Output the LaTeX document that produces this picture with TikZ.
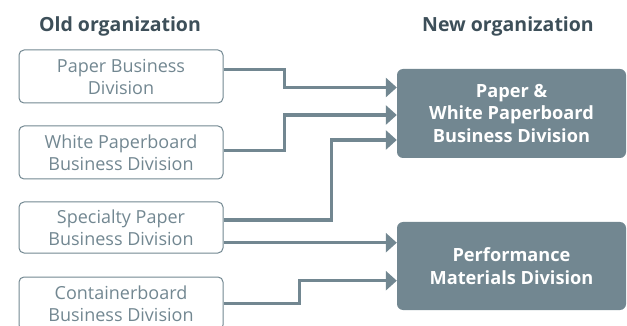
\documentclass[tikz,border=0pt]{standalone}
\usepackage{fontspec}
\setmainfont{Open Sans}
\usetikzlibrary{arrows.meta}

\definecolor{slate}{HTML}{728791}
\definecolor{darkslate}{HTML}{3D4F59}

\begin{document}
\begin{tikzpicture}[x=1pt, y=-1pt, >={Triangle[length=11pt,width=19pt]},
  every old/.style={draw=slate, line width=1pt, rounded corners=5pt, text=slate,
    minimum width=204pt, align=center, font=\fontsize{18}{22}\selectfont},
  every new/.style={fill=slate, rounded corners=6pt, text=white, minimum width=229pt,
    align=center, font=\bfseries\fontsize{18.2}{22.5}\selectfont},
  link/.style={draw=slate, line width=3.5pt, ->},
  heading/.style={text=darkslate, anchor=base, font=\bfseries\fontsize{19.5}{22}\selectfont}]

\useasboundingbox (0,0) rectangle (627,326);
\clip (0,0) rectangle (627,326);

\foreach \n/\t/\y/\h in {paper/{Paper Business\\Division}/76.5/53,
    white/{White Paperboard\\Business Division}/152.5/53,
    special/{Specialty Paper\\Business Division}/227.5/51,
    container/{Containerboard\\Business Division}/303.5/53}
  \node [every old, minimum height=\h pt, inner sep=1pt] (\n) at (121,\y) {\t};

\node [every new, minimum height=89pt] (newpaper) at (511.5,113.5)
  {Paper \&\\White Paperboard\\Business Division};
\node [every new, minimum height=88pt] (perf) at (511.5,266)
  {Performance\\Materials Division};

\node [heading] (oldtitle) at (120,32) {Old organization};
\node [heading] (newtitle) at (508,32) {New organization};

% old -> new
\draw [link] ([yshift=7]paper.east) -- ++(61,0) |- ([yshift=26]newpaper.west);
\draw [link] ([yshift=2]white.east) -- ++(61,0) |- ([yshift=-1.5]newpaper.west);
\draw [link] ([yshift=7.5]special.east) -- ++(108,0) |- ([yshift=-26.5]newpaper.west);
\draw [link] ([yshift=-15.2]special.east) -- ([yshift=23.3]perf.west);
\draw [link] (container.east) -- ++(76,0) |- ([yshift=-14.7]perf.west);

\end{tikzpicture}
\end{document}
